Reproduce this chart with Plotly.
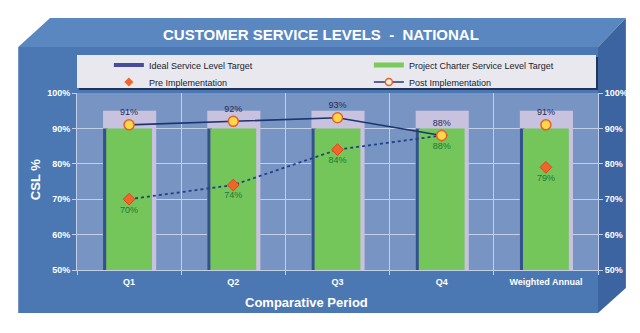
import plotly.graph_objects as go

# ---------------- data ----------------
categories = ["Q1", "Q2", "Q3", "Q4", "Weighted Annual"]
ideal_target = [95, 95, 95, 95, 95]
charter_target = [90, 90, 90, 90, 90]
pre_impl = [70, 74, 84, 88, 79]
post_impl = [91, 92, 93, 88, 91]
y_ticks = [50, 60, 70, 80, 90, 100]
y_tick_labels = ["50%", "60%", "70%", "80%", "90%", "100%"]

FONT = "Liberation Sans"
W, H = 640, 333
L, R, T, B = 77, 600, 93, 270   # plot area in pixels


def px(x):
    return (x - L) / (R - L)


def py(y):
    return (B - y) / (B - T)


def poly(points):
    return "M " + " L ".join(f"{px(x):.5f},{py(y):.5f}" for x, y in points) + " Z"


fig = go.Figure()

# lavender ideal target bars
fig.add_trace(go.Bar(x=categories, y=ideal_target, width=0.51, offset=-0.25,
                     marker=dict(color="#c8c2df", line=dict(width=0)),
                     showlegend=False, hoverinfo="skip"))
# dark shadow strip at the left of charter bars
fig.add_trace(go.Bar(x=categories, y=charter_target, width=0.045, offset=-0.25,
                     marker=dict(color="#34508f", line=dict(width=0)),
                     showlegend=False, hoverinfo="skip"))
# green charter target bars
fig.add_trace(go.Bar(x=categories, y=charter_target, width=0.44, offset=-0.22,
                     marker=dict(color="#74c55a", line=dict(width=0)),
                     showlegend=False))

# pre implementation dotted trend (quarters only)
fig.add_trace(go.Scatter(x=categories[:4], y=pre_impl[:4], mode="lines",
                         line=dict(color="#22408a", width=1.8, dash="dot"),
                         showlegend=False, hoverinfo="skip"))
# post implementation solid line (quarters only)
fig.add_trace(go.Scatter(x=categories[:4], y=post_impl[:4], mode="lines",
                         line=dict(color="#1c3470", width=1.6),
                         showlegend=False, hoverinfo="skip"))
# pre markers + labels
fig.add_trace(go.Scatter(x=categories, y=pre_impl, mode="markers+text",
                         marker=dict(symbol="diamond", size=9, color="#f0662a",
                                     line=dict(color="#d9481c", width=1)),
                         text=[f"{v}%" for v in pre_impl], textposition="bottom center",
                         textfont=dict(family=FONT, size=9, color="#1c7a34"),
                         showlegend=False))
# post markers + labels
fig.add_trace(go.Scatter(x=categories, y=post_impl, mode="markers+text",
                         marker=dict(symbol="circle", size=10, color="#ffd84a",
                                     line=dict(color="#e3602a", width=1.5)),
                         text=[f"{v}%" for v in post_impl], textposition="top center",
                         textfont=dict(family=FONT, size=9, color="#1c2a5a"),
                         showlegend=False))

# legend-only entries, one legend box each
fig.add_trace(go.Scatter(x=[None], y=[None], mode="lines", name="Ideal Service Level Target",
                         line=dict(color="#4b4b9c", width=4), legend="legend"))
fig.add_trace(go.Scatter(x=[None], y=[None], mode="lines", name="Project Charter Service Level Target",
                         line=dict(color="#7acb5c", width=5), legend="legend2", yaxis="y2"))
fig.add_trace(go.Scatter(x=[None], y=[None], mode="markers", name="Pre Implementation",
                         marker=dict(symbol="diamond", size=7, color="#f0662a"), legend="legend3"))
fig.add_trace(go.Scatter(x=[None], y=[None], mode="lines+markers", name="Post Implementation",
                         line=dict(color="#2a3a6a", width=1.5),
                         marker=dict(symbol="circle", size=7, color="#f7f0e0",
                                     line=dict(color="#e3602a", width=1.5)),
                         legend="legend4"))

shapes = [
    # front face
    dict(type="path", path=poly([(18, 47), (600, 47), (600, 313), (18, 313)]),
         fillcolor="#4b78b3", line=dict(width=0), layer="below"),
    # top face
    dict(type="path", path=poly([(18, 47), (50, 18), (628, 18), (600, 47)]),
         fillcolor="#5b87c1", line=dict(width=0), layer="below"),
    # right face
    dict(type="path", path=poly([(600, 47), (628, 18), (628, 288), (600, 313)]),
         fillcolor="#3c64a0", line=dict(width=0), layer="below"),
    # plot area background
    dict(type="rect", x0=0, x1=1, y0=0, y1=1,
         fillcolor="#7894c3", line=dict(width=0), layer="below"),
    # legend box shadow and box
    dict(type="rect", x0=px(79), x1=px(600), y0=py(90), y1=py(57),
         fillcolor="#22335c", line=dict(width=0), layer="below"),
    dict(type="rect", x0=px(77), x1=px(598), y0=py(88), y1=py(55),
         fillcolor="#e8e8ee", line=dict(width=0), layer="below"),
]
for s in shapes:
    s["xref"] = "paper"
    s["yref"] = "paper"

axis_font = dict(family=FONT, size=9, color="white", weight="bold")
legend_common = dict(xanchor="left", yanchor="middle", orientation="v",
                     bgcolor="rgba(0,0,0,0)", borderwidth=0,
                     font=dict(family=FONT, size=9, color="#1a1a2a"))

fig.update_layout(
    width=W, height=H,
    margin=dict(l=L, r=W - R, t=T, b=H - B),
    paper_bgcolor="white",
    plot_bgcolor="rgba(0,0,0,0)",
    barmode="overlay",
    shapes=shapes,
    showlegend=True,
    legend=dict(x=px(109), y=py(65), **legend_common),
    legend2=dict(x=px(370), y=py(65), **legend_common),
    legend3=dict(x=px(109), y=py(82), **legend_common),
    legend4=dict(x=px(370), y=py(82), **legend_common),
    xaxis=dict(type="category", categoryorder="array", categoryarray=categories,
               range=[-0.5, 4.5], tickson="boundaries", showgrid=True,
               gridcolor="#c3cfe6", gridwidth=1, ticks="outside", ticklen=4,
               tickcolor="#c3cfe6", tickfont=axis_font, showline=True,
               linecolor="#c3cfe6", ticklabelstandoff=3, fixedrange=True),
    yaxis=dict(range=[50, 100], tickvals=y_ticks, ticktext=y_tick_labels,
               showgrid=True, gridcolor="#c3cfe6", gridwidth=1, ticks="outside",
               ticklen=4, tickcolor="#c3cfe6", tickfont=axis_font, showline=True,
               linecolor="#c3cfe6", zeroline=False, fixedrange=True),
    yaxis2=dict(range=[50, 100], tickvals=y_ticks, ticktext=y_tick_labels,
                overlaying="y", side="right", showgrid=False, ticks="outside",
                ticklen=4, tickcolor="#c3cfe6", tickfont=axis_font, showline=True,
                linecolor="#c3cfe6", zeroline=False, fixedrange=True),
    annotations=[
        dict(text="CUSTOMER SERVICE LEVELS  -  NATIONAL", x=px(322), y=py(35),
             xanchor="center", yanchor="middle",
             xref="paper", yref="paper", showarrow=False,
             font=dict(family=FONT, size=15, color="white", weight="bold")),
        dict(text="Comparative Period", x=px(307), y=py(302),
             xanchor="center", yanchor="middle",
             xref="paper", yref="paper", showarrow=False,
             font=dict(family=FONT, size=13, color="white", weight="bold")),
        dict(text="CSL %", x=px(35), y=py(180), textangle=-90,
             xanchor="center", yanchor="middle",
             xref="paper", yref="paper", showarrow=False,
             font=dict(family=FONT, size=13, color="white", weight="bold")),
    ],
)

fig.write_html("out.html")
